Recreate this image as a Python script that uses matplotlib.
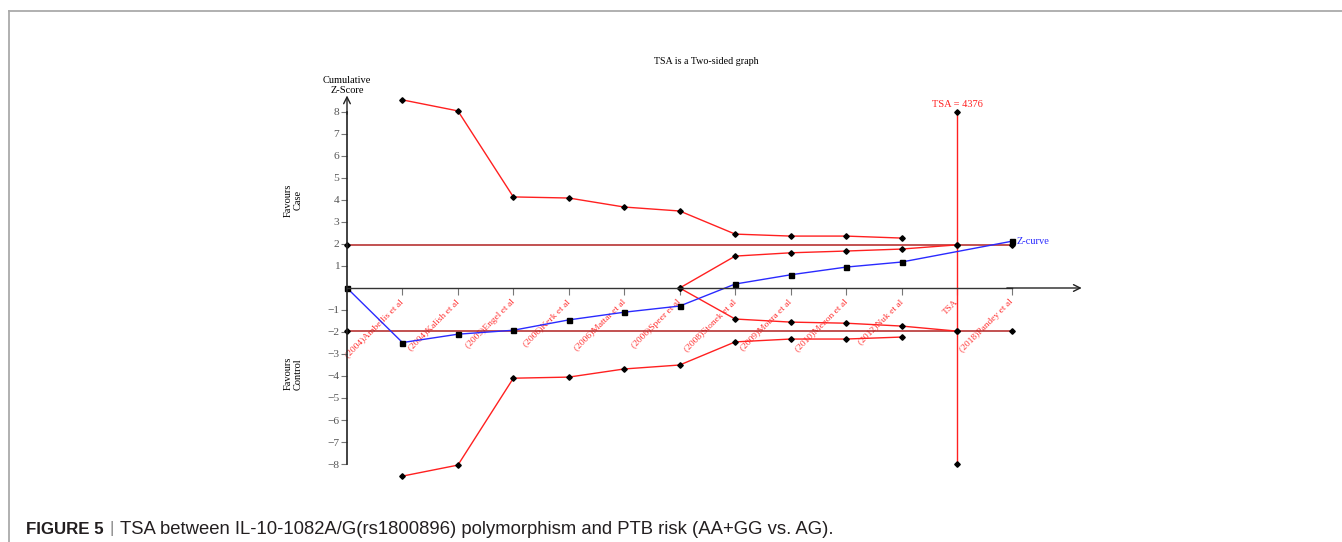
import matplotlib
matplotlib.use('Agg')
import matplotlib.pyplot as plt
from matplotlib.lines import Line2D

# ---------------- data ----------------
labels = ["(2004)Ambellis et al", "(2004)Kalish et al", "(2005)Engel et al",
          "(2006)Kerk et al", "(2006)Mattar et al", "(2006)Speer et al",
          "(2008)Stonek et al", "(2009)Moura et al", "(2010)Menon et al",
          "(2012)Nuk et al", "TSA", "(2018)Pandey et al"]
positions = list(range(1, 13))

outer_idx = [1, 2, 3, 4, 5, 6, 7, 8, 9, 10]
upper_outer = [8.55, 8.05, 4.14, 4.09, 3.68, 3.50, 2.45, 2.36, 2.36, 2.27]
lower_outer = [-8.55, -8.05, -4.10, -4.05, -3.68, -3.50, -2.45, -2.32, -2.32, -2.23]

inner_idx = [6, 7, 8, 9, 10, 11]
inner_upper = [0.0, 1.45, 1.60, 1.68, 1.77, 1.96]
inner_lower = [0.0, -1.41, -1.55, -1.60, -1.73, -1.96]

z_idx = [0, 1, 2, 3, 4, 5, 6, 7, 8, 9, 10, 12]
z_vals = [0.0, -2.48, -2.10, -1.92, -1.45, -1.10, -0.82, 0.18, 0.60, 0.95, 1.18, 2.13]

crit_idx = [0, 11, 12]
crit_val = 1.96
tsa_idx = 11
tsa_range = [8, -8]
tsa_text = "TSA = 4376"

yticks = [-8, -7, -6, -5, -4, -3, -2, -1, 1, 2, 3, 4, 5, 6, 7, 8]

# ---------------- layout ----------------
plt.rcParams['font.family'] = ['Liberation Serif', 'DejaVu Serif']
W, H = 1342, 542
fig = plt.figure(figsize=(W / 100, H / 100), dpi=100)

px, py = 55.45, 22.0      # pixels per unit
x0p, y0p = 347, 288       # pixel of data origin
xlim = (-1.0, 13.6)
ylim = (-9.0, 9.5)
left = (x0p + xlim[0] * px) / W
right = (x0p + xlim[1] * px) / W
top_px = y0p - ylim[1] * py
bot_px = y0p - ylim[0] * py
ax = fig.add_axes([left, 1 - bot_px / H, right - left, (bot_px - top_px) / H])
ax.set_xlim(xlim)
ax.set_ylim(ylim)
ax.patch.set_alpha(0)

for s in ['top', 'right']:
    ax.spines[s].set_visible(False)
ax.spines['left'].set_position(('data', 0))
ax.spines['bottom'].set_position(('data', 0))
ax.spines['left'].set_bounds(-8, 8)
ax.spines['bottom'].set_bounds(0, 12)
ax.spines['left'].set_color('#222222')
ax.spines['bottom'].set_color('#333333')
ax.spines['left'].set_linewidth(1.2)
ax.spines['bottom'].set_linewidth(1.0)

ax.set_yticks(yticks)
ax.set_yticklabels([str(v).replace('-', '\u2212') for v in yticks])
ax.tick_params(axis='y', direction='out', length=4, width=0.8, color='#777777',
               labelcolor='#555555', labelsize=8.2, pad=1.5)

ax.set_xticks(positions)
ax.set_xticklabels(labels, rotation=45, ha='right', va='center',
                   rotation_mode='anchor')
ax.tick_params(axis='x', direction='out', length=5, width=0.8, color='#777777',
               labelcolor='#ff3333', labelsize=6.8, pad=4.0)

# axis arrows
arrow_kw = dict(arrowstyle='->', lw=1.0, color='#222222', shrinkA=0, shrinkB=0,
                mutation_scale=12)
ax.annotate('', xy=(0, 8.75), xytext=(0, 7.9), arrowprops=arrow_kw)
ax.annotate('', xy=(13.25, 0), xytext=(11.9, 0), arrowprops=arrow_kw)

mk = dict(marker='D', ms=2.8, mfc='black', mec='black')

# critical value lines
ax.plot(crit_idx, [crit_val] * len(crit_idx), color='#b22222', lw=1.1, **mk)
ax.plot(crit_idx, [-crit_val] * len(crit_idx), color='#b22222', lw=1.1, **mk)

# TSA vertical line
ax.plot([tsa_idx, tsa_idx], tsa_range, color='#ff2020', lw=1.0, **mk)

# boundaries
ax.plot(outer_idx, upper_outer, color='#ff2020', lw=1.0, **mk)
ax.plot(outer_idx, lower_outer, color='#ff2020', lw=1.0, **mk)
ax.plot(inner_idx, inner_upper, color='#ff2020', lw=1.0, **mk)
ax.plot(inner_idx, inner_lower, color='#ff2020', lw=1.0, **mk)

# Z-curve
ax.plot(z_idx, z_vals, color='#2a2aff', lw=1.0, marker='s', ms=3.6,
        mfc='black', mec='black')

ax.annotate('Z-curve', xy=(z_idx[-1], z_vals[-1]), xytext=(3, 0),
            textcoords='offset points', color='#2a2aff', fontsize=7.5,
            ha='left', va='center')
ax.annotate(tsa_text, xy=(tsa_idx, tsa_range[0]), xytext=(0, 2),
            textcoords='offset points', color='#ff2020', fontsize=7.5,
            ha='center', va='bottom')
ax.annotate('Cumulative\nZ-Score', xy=(0, 8.75), xytext=(0, 0),
            textcoords='offset points', fontsize=7.5, ha='center', va='bottom',
            linespacing=1.25)

fx = (293 - x0p) / px
ax.text(fx, 4.0, 'Favours\nCase', rotation=90, ha='center', va='center',
        fontsize=7.5, multialignment='center', linespacing=1.15)
ax.text(fx, -3.9, 'Favours\nControl', rotation=90, ha='center', va='center',
        fontsize=7.5, multialignment='center', linespacing=1.15)

fig.text(706 / W, 1 - 61 / H, 'TSA is a Two-sided graph', ha='center',
         va='center', fontsize=7.2)

# frame
fig.add_artist(Line2D([9 / W, 1], [1 - 10.5 / H] * 2, color='#aaaaaa', lw=1.3))
fig.add_artist(Line2D([9 / W] * 2, [0, 1 - 10.5 / H], color='#aaaaaa', lw=1.3))

# caption
renderer = fig.canvas.get_renderer()
cap_y = 1 - 529 / H
t1 = fig.text(26 / W, cap_y, 'FIGURE 5', family='Liberation Sans',
              fontweight='bold', fontsize=12.2, va='center', color='#231f20')
bb = t1.get_window_extent(renderer)
t2 = fig.text((bb.x1 + 6) / W, cap_y, '|', family='Liberation Sans',
              fontsize=12.2, va='center', color='#888888')
bb2 = t2.get_window_extent(renderer)
fig.text((bb2.x1 + 6) / W, cap_y,
         'TSA between IL-10-1082A/G(rs1800896) polymorphism and PTB risk (AA+GG vs. AG).',
         family='Liberation Sans', fontsize=13.3, va='center', color='#231f20')

fig.savefig('out.png', dpi=100)
